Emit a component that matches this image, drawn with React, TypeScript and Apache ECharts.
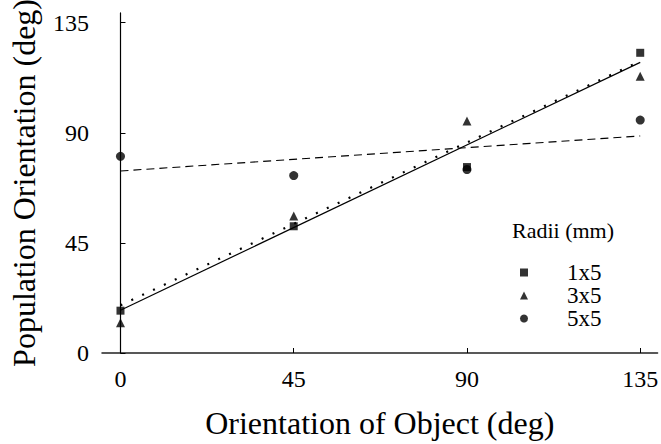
import React, { useEffect, useRef } from "react";
import * as echarts from "echarts";

const tickValues = [0, 45, 90, 135];
const orientations = [0, 45, 90, 135];
const radii1x5 = [17.3, 51.8, 76, 122.7];
const radii3x5 = [12.4, 56, 94.8, 113.1];
const radii5x5 = [80.4, 72.5, 75, 95.2];
const legendNames = ["1x5", "3x5", "5x5"];
const fitX = [0, 135];
const fit1x5 = [17.5, 118.8];
const fit3x5 = [19.5, 119.3];
const fit5x5 = [74.4, 88.7];

const FONT = "Liberation Serif";
const serif = (size: number) => ({
  fontFamily: FONT,
  fontSize: size,
  fontWeight: "normal" as const,
  fontStyle: "normal" as const,
  color: "#000",
});

export default function App() {
  const ref = useRef<HTMLDivElement>(null);
  useEffect(() => {
    const chart = echarts.init(ref.current!, null, { renderer: "svg" });
    const pts = (ys: number[]) => orientations.map((x, i) => [x, ys[i]]);
    const fit = (ys: number[]) => fitX.map((x, i) => [x, ys[i]]);
    chart.setOption({
      animation: false,
      backgroundColor: "#fff",
      textStyle: serif(12),
      grid: { left: 95, right: 0, top: 12, bottom: 83 },
      legend: {
        data: legendNames,
        orient: "vertical",
        left: 520,
        top: 261,
        itemWidth: 8,
        itemHeight: 8,
        itemGap: 0,
        padding: 0,
        textStyle: { ...serif(23), lineHeight: 22.3, padding: [0, 0, 0, 34] },
      },
      graphic: [
        {
          type: "text",
          left: 512,
          top: 219,
          style: { text: "Radii (mm)", font: "22px Liberation Serif", fill: "#000" },
        },
      ],
      xAxis: {
        type: "value",
        min: -4.8,
        max: 139.5,
        name: "Orientation of Object (deg)",
        nameLocation: "middle",
        nameGap: 54,
        nameTextStyle: serif(32),
        axisLine: { lineStyle: { color: "#222", width: 1.5 } },
        axisTick: { inside: true, length: 5, customValues: tickValues, lineStyle: { color: "#000" } },
        axisLabel: { customValues: tickValues, ...serif(24), margin: 14 },
        splitLine: { show: false },
      },
      yAxis: {
        type: "value",
        min: 0,
        max: 139,
        name: "Population Orientation (deg)",
        nameLocation: "middle",
        nameGap: 62,
        nameTextStyle: serif(32),
        axisLine: { show: true, lineStyle: { color: "#000", width: 1.2 } },
        axisTick: { show: true, inside: true, length: 5, customValues: tickValues, lineStyle: { color: "#000" } },
        axisLabel: { customValues: tickValues, ...serif(24), margin: 13 },
        splitLine: { show: false },
      },
      series: [
        {
          name: "fit1x5",
          type: "line",
          data: fit(fit1x5),
          showSymbol: false,
          lineStyle: { color: "#000", width: 1.2, type: "solid" },
          silent: true,
        },
        {
          name: "fit3x5",
          type: "line",
          data: fit(fit3x5),
          showSymbol: false,
          lineStyle: { color: "#000", width: 2.2, type: [2, 10] },
          silent: true,
        },
        {
          name: "fit5x5",
          type: "line",
          data: fit(fit5x5),
          showSymbol: false,
          lineStyle: { color: "#000", width: 1.1, type: [8, 5] },
          silent: true,
        },
        {
          name: "1x5",
          type: "scatter",
          data: pts(radii1x5),
          symbol: "rect",
          symbolSize: 8,
          itemStyle: { color: "#000" },
        },
        {
          name: "3x5",
          type: "scatter",
          data: pts(radii3x5),
          symbol: "triangle",
          symbolSize: 9,
          itemStyle: { color: "#000" },
        },
        {
          name: "5x5",
          type: "scatter",
          data: pts(radii5x5),
          symbol: "circle",
          symbolSize: 9,
          itemStyle: { color: "#000" },
        },
      ],
    });
    return () => chart.dispose();
  }, []);
  return <div ref={ref} style={{ width: 661, height: 444, position: "absolute", left: 0, top: 0 }} />;
}
